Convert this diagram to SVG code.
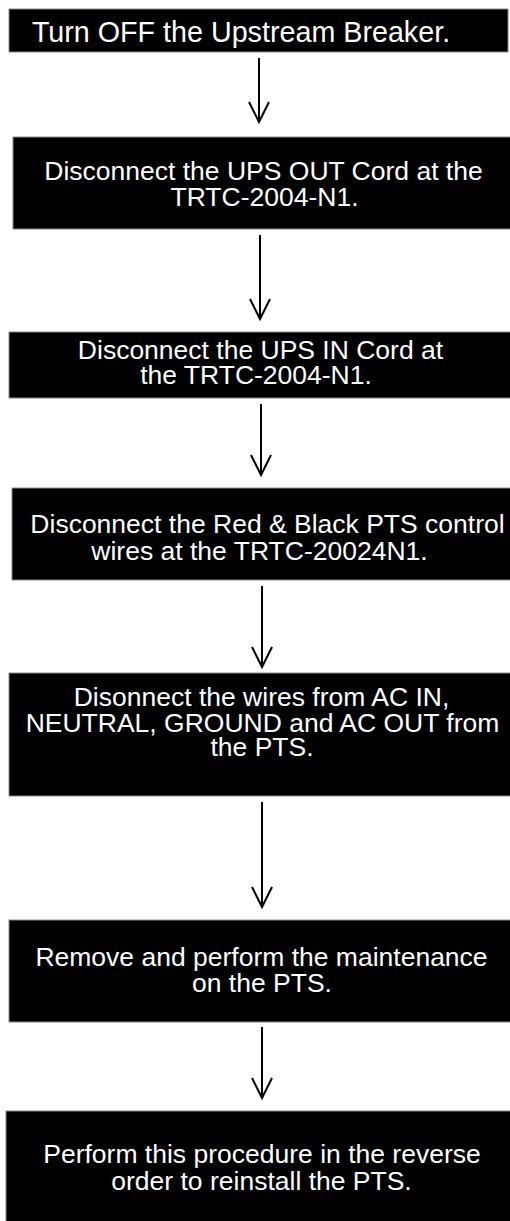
<svg xmlns="http://www.w3.org/2000/svg" width="510" height="1221" viewBox="0 0 510 1221">
<style>
.box{fill:#000;stroke:#8a8a8a;stroke-width:1}
.t{fill:#fff;font-family:"Liberation Sans",Arial,sans-serif;font-size:26.5px;text-anchor:middle}
.t1{font-size:28.7px}
.c{stroke:#000;stroke-width:2;fill:none}
</style>
<defs>
<marker id="arr" viewBox="-22 -12 24 24" refX="0" refY="0" markerWidth="24" markerHeight="24" markerUnits="userSpaceOnUse" orient="auto" overflow="visible">
<path d="M-20,-10 L0,0 L-20,10" fill="none" stroke="#000" stroke-width="2"/>
</marker>
</defs>
<rect width="510" height="1221" fill="#fff"/>
<g id="connectors">
<line class="c" x1="259" y1="58" x2="259" y2="122" marker-end="url(#arr)"/>
<line class="c" x1="260" y1="235" x2="260" y2="319" marker-end="url(#arr)"/>
<line class="c" x1="261" y1="404" x2="261" y2="475" marker-end="url(#arr)"/>
<line class="c" x1="262" y1="586" x2="262" y2="667" marker-end="url(#arr)"/>
<line class="c" x1="262" y1="802" x2="262" y2="907" marker-end="url(#arr)"/>
<line class="c" x1="262" y1="1027" x2="262" y2="1098" marker-end="url(#arr)"/>
</g>
<g id="n1">
<rect class="box" x="9" y="9" width="499" height="43"/>
<text class="t t1" x="241" y="41.5">Turn OFF the Upstream Breaker.</text>
</g>
<g id="n2">
<rect class="box" x="13" y="137" width="500" height="92"/>
<text class="t" x="263.5" y="180">Disconnect the UPS OUT Cord at the</text>
<text class="t" x="264.5" y="206">TRTC-2004-N1.</text>
</g>
<g id="n3">
<rect class="box" x="9" y="332" width="504" height="66"/>
<text class="t" x="260.5" y="359">Disconnect the UPS IN Cord at</text>
<text class="t" x="256" y="384">the TRTC-2004-N1.</text>
</g>
<g id="n4">
<rect class="box" x="12" y="488" width="501" height="92"/>
<text class="t" x="267.5" y="533">Disconnect the Red &amp; Black PTS control</text>
<text class="t" x="259.5" y="560">wires at the TRTC-20024N1.</text>
</g>
<g id="n5">
<rect class="box" x="9" y="673" width="504" height="123"/>
<text class="t" x="261.5" y="706">Disonnect the wires from AC IN,</text>
<text class="t" x="262.5" y="732">NEUTRAL, GROUND and AC OUT from</text>
<text class="t" x="262" y="756">the PTS.</text>
</g>
<g id="n6">
<rect class="box" x="9" y="920" width="504" height="102"/>
<text class="t" x="261.5" y="966">Remove and perform the maintenance</text>
<text class="t" x="262" y="992">on the PTS.</text>
</g>
<g id="n7">
<rect class="box" x="6" y="1111" width="507" height="115"/>
<text class="t" x="262" y="1163">Perform this procedure in the reverse</text>
<text class="t" x="261.5" y="1190">order to reinstall the PTS.</text>
</g>
</svg>
